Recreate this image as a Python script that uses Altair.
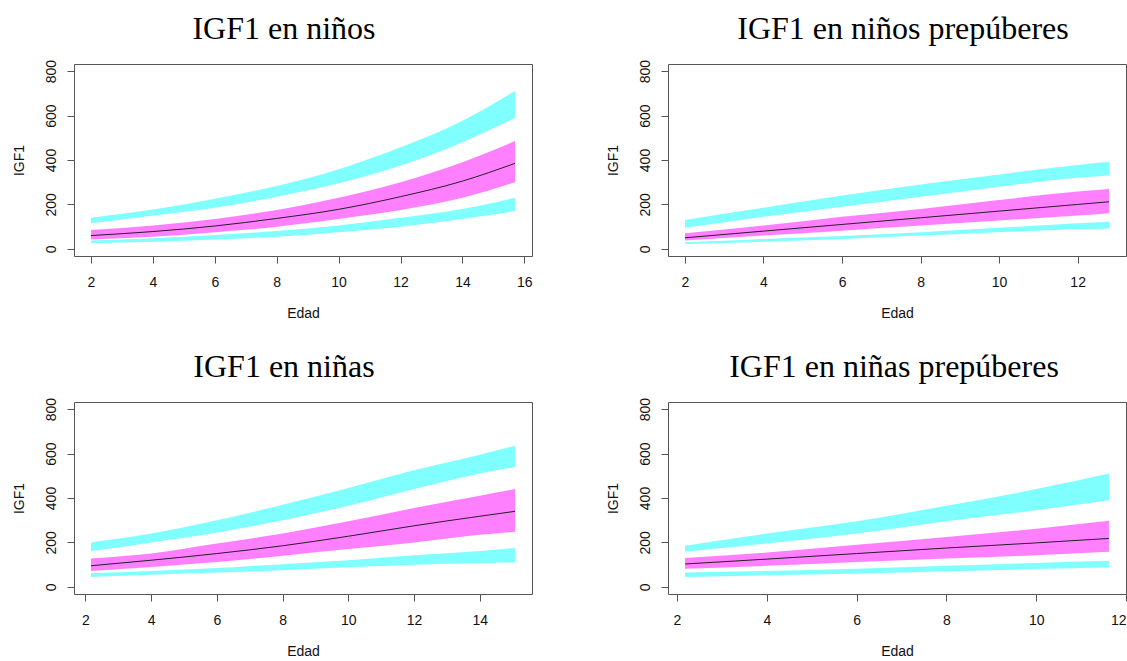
import altair as alt
import pandas as pd

# ---------------- data ----------------
# Panel 1: IGF1 en niños
ninos_edad = [2, 4, 6, 8, 10, 12, 14, 15.7]
ninos_p_lo_b = [25, 32, 42, 55, 75, 100, 135, 170]
ninos_p_lo_t = [38, 48, 62, 80, 105, 140, 180, 230]
ninos_m_lo = [42, 55, 75, 100, 135, 175, 230, 300]
ninos_med = [60, 78, 103, 137, 178, 235, 305, 385]
ninos_m_hi = [85, 105, 135, 175, 230, 300, 390, 485]
ninos_p_hi_b = [115, 150, 185, 235, 295, 375, 480, 590]
ninos_p_hi_t = [140, 177, 226, 283, 358, 457, 577, 711]

# Panel 2: IGF1 en niños prepúberes
ninos_pp_edad = [2, 4, 6, 8, 10, 12, 12.8]
ninos_pp_p_lo_b = [22, 32, 45, 60, 75, 88, 92]
ninos_pp_p_lo_t = [30, 45, 58, 75, 95, 115, 122]
ninos_pp_m_lo = [38, 60, 82, 105, 128, 150, 160]
ninos_pp_med = [50, 80, 110, 140, 170, 200, 212]
ninos_pp_m_hi = [70, 105, 145, 180, 220, 258, 270]
ninos_pp_p_hi_b = [95, 145, 190, 235, 280, 320, 330]
ninos_pp_p_hi_t = [130, 185, 240, 290, 335, 378, 392]

# Panel 3: IGF1 en niñas
ninas_edad = [2.17, 4, 6, 8, 10, 12, 14, 15.07]
ninas_p_lo_b = [45, 55, 65, 75, 88, 100, 108, 110]
ninas_p_lo_t = [62, 72, 85, 102, 120, 142, 162, 175]
ninas_m_lo = [72, 90, 112, 140, 170, 200, 235, 248]
ninas_med = [95, 120, 150, 185, 228, 275, 318, 340]
ninas_m_hi = [128, 150, 195, 240, 295, 355, 410, 440]
ninas_p_hi_b = [160, 200, 245, 300, 365, 440, 510, 540]
ninas_p_hi_t = [200, 240, 300, 370, 445, 525, 595, 635]

# Panel 4: IGF1 en niñas prepúberes
ninas_pp_edad = [2.18, 4, 6, 8, 10, 11.62]
ninas_pp_p_lo_b = [45, 52, 60, 70, 80, 88]
ninas_pp_p_lo_t = [65, 72, 82, 95, 108, 118]
ninas_pp_m_lo = [82, 95, 112, 128, 142, 158]
ninas_pp_med = [103, 125, 150, 175, 198, 218]
ninas_pp_m_hi = [130, 155, 190, 225, 262, 298]
ninas_pp_p_hi_b = [158, 195, 240, 295, 345, 390]
ninas_pp_p_hi_t = [185, 240, 295, 365, 440, 510]

y_ticks = [0, 200, 400, 600, 800]
y_domain = [-32, 832]

PANEL_W = 458
PANEL_H = 192
CYAN = "#80FFFF"
MAGENTA = "#FF80FF"
AXIS_GREY = "#555555"
TEXT = "#111111"


def make_panel(title, title_dx, edad, lo_b, lo_t, m_lo, med, m_hi, hi_b, hi_t,
               x_domain, x_ticks):
    df = pd.DataFrame({
        "edad": edad, "lo_b": lo_b, "lo_t": lo_t, "m_lo": m_lo, "med": med,
        "m_hi": m_hi, "hi_b": hi_b, "hi_t": hi_t,
    })
    x_axis = alt.Axis(
        values=x_ticks, title="Edad", domain=False, grid=False,
        tickSize=7, tickColor=AXIS_GREY, tickWidth=1,
        labelFont="Liberation Sans", labelFontSize=14, labelColor=TEXT,
        labelPadding=12, labelBaseline="top", labelAngle=0,
        titleFont="Liberation Sans", titleFontSize=14, titleFontWeight="normal",
        titleColor=TEXT, titleX=PANEL_W / 2, titleY=61, titleAlign="center",
        titleBaseline="alphabetic",
    )
    y_axis = alt.Axis(
        values=y_ticks, title="IGF1", domain=False, grid=False,
        tickSize=7, tickColor=AXIS_GREY, tickWidth=1,
        labelFont="Liberation Sans", labelFontSize=14, labelColor=TEXT,
        labelPadding=12, labelAngle=270, labelAlign="center",
        labelBaseline="alphabetic",
        titleFont="Liberation Sans", titleFontSize=14, titleFontWeight="normal",
        titleColor=TEXT, titleAngle=270, titleX=-51, titleY=PANEL_H / 2,
        titleAlign="center", titleBaseline="alphabetic",
    )
    xs = alt.Scale(domain=x_domain, nice=False, zero=False)
    ys = alt.Scale(domain=y_domain, nice=False, zero=False)
    X = alt.X("edad:Q", scale=xs, axis=x_axis)

    base = alt.Chart(df)
    hi = base.mark_area(color=CYAN, opacity=1, interpolate="monotone").encode(
        x=X, y=alt.Y("hi_b:Q", scale=ys, axis=y_axis), y2="hi_t:Q")
    mid = base.mark_area(color=MAGENTA, opacity=1, interpolate="monotone").encode(
        x=X, y=alt.Y("m_lo:Q", scale=ys, axis=y_axis), y2="m_hi:Q")
    lo = base.mark_area(color=CYAN, opacity=1, interpolate="monotone").encode(
        x=X, y=alt.Y("lo_b:Q", scale=ys, axis=y_axis), y2="lo_t:Q")
    line = base.mark_line(color="#2a1a2a", strokeWidth=1, interpolate="monotone").encode(
        x=X, y=alt.Y("med:Q", scale=ys, axis=y_axis))

    return alt.layer(hi, mid, lo, line).properties(
        width=PANEL_W, height=PANEL_H,
        title=alt.TitleParams(
            text=title, font="Liberation Serif", fontSize=32,
            fontWeight="normal", color="#000000", anchor="middle",
            baseline="alphabetic", offset=-12, dx=title_dx,
        ),
    )


p1 = make_panel("IGF1 en niños", -19, ninos_edad, ninos_p_lo_b, ninos_p_lo_t,
                ninos_m_lo, ninos_med, ninos_m_hi, ninos_p_hi_b, ninos_p_hi_t,
                [1.452, 16.248], [2, 4, 6, 8, 10, 12, 14, 16])
p2 = make_panel("IGF1 en niños prepúberes", 6, ninos_pp_edad, ninos_pp_p_lo_b,
                ninos_pp_p_lo_t, ninos_pp_m_lo, ninos_pp_med, ninos_pp_m_hi,
                ninos_pp_p_hi_b, ninos_pp_p_hi_t,
                [1.568, 13.232], [2, 4, 6, 8, 10, 12])
p3 = make_panel("IGF1 en niñas", -19, ninas_edad, ninas_p_lo_b, ninas_p_lo_t,
                ninas_m_lo, ninas_med, ninas_m_hi, ninas_p_hi_b, ninas_p_hi_t,
                [1.654, 15.586], [2, 4, 6, 8, 10, 12, 14])
p4 = make_panel("IGF1 en niñas prepúberes", -3, ninas_pp_edad, ninas_pp_p_lo_b,
                ninas_pp_p_lo_t, ninas_pp_m_lo, ninas_pp_med, ninas_pp_m_hi,
                ninas_pp_p_hi_b, ninas_pp_p_hi_t,
                [1.80, 12.0], [2, 4, 6, 8, 10, 12])

row1 = alt.hconcat(p1, p2, spacing=72)
row2 = alt.hconcat(p3, p4, spacing=72)

chart = alt.vconcat(row1, row2, spacing=29).properties(
    padding={"left": 11, "top": 12, "right": 0, "bottom": 0},
    background="white",
).configure_view(
    stroke=AXIS_GREY, strokeWidth=1,
)

chart.save("out.html", embed_options={"renderer": "svg", "actions": False})
